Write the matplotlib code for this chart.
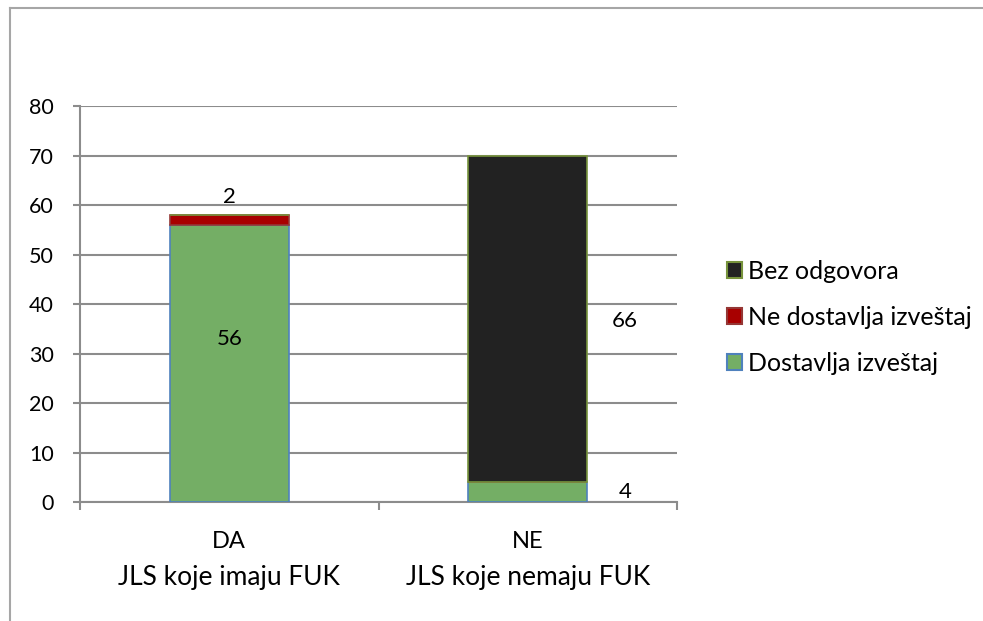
import matplotlib.pyplot as plt
from matplotlib.lines import Line2D
from matplotlib.patches import Patch

plt.rcParams['font.family'] = ['Lato', 'DejaVu Sans']

categories = ["DA", "NE"]
groups = ["JLS koje imaju FUK", "JLS koje nemaju FUK"]
dostavlja = [56, 4]
ne_dostavlja = [2, 0]
bez_odgovora = [0, 66]

GREEN = '#74AE65'
RED = '#A80000'
BLACK = '#222222'
GRID = '#8C8C8C'

fig = plt.figure(figsize=(9.83, 6.21), dpi=100)
ax = fig.add_axes([0.0814, 0.1916, 0.6073, 0.6377])

x = list(range(len(categories)))
w = 0.4
ax.bar(x, dostavlja, w, color=GREEN, edgecolor='#4F81BD', linewidth=1.2, zorder=3)
bottom2 = [a for a in dostavlja]
ax.bar(x, ne_dostavlja, w, bottom=bottom2, color=RED, edgecolor='#953735', linewidth=1.2, zorder=3)
bottom3 = [a + b for a, b in zip(dostavlja, ne_dostavlja)]
ax.bar(x, bez_odgovora, w, bottom=bottom3, color=BLACK, edgecolor='#77933C', linewidth=1.2, zorder=3)

# data labels (positions as in the original chart)
fs = 16
ax.text(0, 33, str(dostavlja[0]), ha='center', va='center', fontsize=fs, zorder=4)
ax.text(0, 61.6, str(ne_dostavlja[0]), ha='center', va='center', fontsize=fs, zorder=4)
ax.text(1.326, bottom3[1] + bez_odgovora[1] / 2 - 0.4, str(bez_odgovora[1]), ha='center', va='center', fontsize=fs)
ax.text(1.326, 2, str(dostavlja[1]), ha='center', va='center', fontsize=fs)

ax.set_xlim(-0.5, 1.5)
ax.set_ylim(0, 80)
ax.set_yticks(range(0, 81, 10))
ax.yaxis.grid(True, color=GRID, linewidth=1.5, zorder=0)
ax.set_axisbelow(True)
ax.tick_params(axis='y', labelsize=15.5, length=5, width=1.5, color=GRID, pad=14)

ax.set_xticks(x)
ax.set_xticklabels(categories, fontsize=17)
ax.tick_params(axis='x', length=0, pad=21)
ax.set_xticks([-0.5, 0.5, 1.5], minor=True)
ax.tick_params(axis='x', which='minor', length=6, width=1.5, color=GRID)
for i, g in enumerate(groups):
    ax.text(i, -0.19, g, transform=ax.get_xaxis_transform(), ha='center', va='center', fontsize=19)

for s in ['top', 'right']:
    ax.spines[s].set_visible(False)
for s in ['left', 'bottom']:
    ax.spines[s].set_color(GRID)
    ax.spines[s].set_linewidth(1.5)

handles = [
    Patch(facecolor=BLACK, edgecolor='#77933C', linewidth=1.5),
    Patch(facecolor=RED, edgecolor='#953735', linewidth=1.5),
    Patch(facecolor=GREEN, edgecolor='#4F81BD', linewidth=1.5),
]
labels = ["Bez odgovora", "Ne dostavlja izveštaj", "Dostavlja izveštaj"]
fig.legend(handles, labels, loc='center left', bbox_to_anchor=(0.7396, 0.4895), frameon=False,
           borderpad=0, borderaxespad=0, fontsize=18, handlelength=0.6, handleheight=0.6,
           handletextpad=0.25, labelspacing=0.92)

# outer chart border
fig.add_artist(Line2D([10 / 983, 1], [1 - 8 / 621, 1 - 8 / 621], transform=fig.transFigure, color='#A6A6A6', linewidth=1.5))
fig.add_artist(Line2D([10 / 983, 10 / 983], [0, 1 - 8 / 621], transform=fig.transFigure, color='#A6A6A6', linewidth=1.5))

fig.savefig('out.png', dpi=100)
